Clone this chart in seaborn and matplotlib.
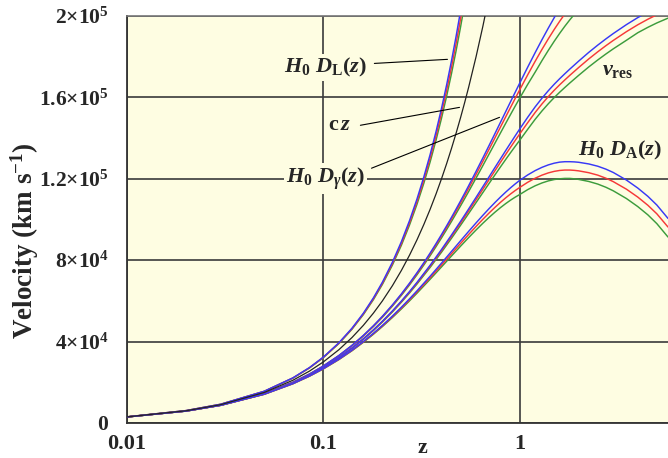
import numpy as np
import pandas as pd
import matplotlib
matplotlib.use("Agg")
import matplotlib.pyplot as plt
import matplotlib.ticker as mticker
import seaborn as sns

# ---------------- data ----------------
z_dl = [0.01, 0.02, 0.03, 0.05, 0.07, 0.085, 0.1, 0.12, 0.14, 0.16, 0.18, 0.2, 0.225, 0.25, 0.275, 0.3,
        0.325, 0.35, 0.375, 0.4, 0.425, 0.45, 0.475, 0.5, 0.525, 0.55]
dl_blue = [3024, 6097, 9218, 15602, 22173, 27221, 32372, 39395, 46592, 53961, 61499, 69201, 79055, 89156,
           99496, 110070, 120872, 131897, 143138, 154591, 166250, 178109, 190166, 202412, 214846, 227460]
dl_red = [3023, 6092, 9207, 15571, 22111, 27129, 32243, 39207, 46333, 53618, 61059, 68652, 78350, 88273,
          98413, 108765, 119321, 130076, 141023, 152157, 163471, 174960, 186620, 198443, 210427, 222564]
dl_green = [3022, 6087, 9196, 15540, 22049, 27037, 32114, 39019, 46074, 53275, 60619, 68103, 77645, 87390,
            97330, 107460, 117770, 128255, 138908, 149722, 160692, 171811, 183074, 194474, 206008, 217668]

z_cz = [0.01, 0.02, 0.03, 0.05, 0.07, 0.085, 0.1, 0.12, 0.14, 0.16, 0.18, 0.2, 0.225, 0.25, 0.275, 0.3,
        0.325, 0.35, 0.375, 0.4, 0.425, 0.45, 0.475, 0.5, 0.525, 0.55, 0.6, 0.65, 0.7]
cz = [3000, 6000, 9000, 15000, 21000, 25500, 30000, 36000, 42000, 48000, 54000, 60000, 67500, 75000, 82500,
      90000, 97500, 105000, 112500, 120000, 127500, 135000, 142500, 150000, 157500, 165000, 180000, 195000,
      210000]

z_dg = [0.01, 0.02, 0.03, 0.05, 0.07, 0.085, 0.1, 0.12, 0.14, 0.16, 0.18, 0.2, 0.225, 0.25, 0.275, 0.3,
        0.325, 0.35, 0.375, 0.4, 0.425, 0.45, 0.475, 0.5, 0.525, 0.55, 0.6, 0.65, 0.7, 0.75, 0.8, 0.85, 0.9,
        0.95, 1.0, 1.1, 1.2, 1.3, 1.4, 1.5, 1.6, 1.7, 1.8, 1.9, 2.0]
dg_blue = [2979, 5916, 8813, 14486, 20005, 24045, 28004, 33157, 38173, 43054, 47806, 52434, 58048, 63478,
           68734, 73819, 78743, 83507, 88122, 92589, 96916, 101104, 105167, 109099, 112910, 116603, 123652,
           130277, 136506, 142365, 147879, 153072, 157964, 162575, 166922, 174899, 182012, 188370, 194055,
           199152, 203728, 207900, 211700, 215100, 218300]
dg_red = [2978, 5914, 8808, 14472, 19977, 24004, 27948, 33078, 38066, 42917, 47635, 52225, 57788, 63162,
          68358, 73379, 78234, 82927, 87466, 91854, 96099, 100202, 104177, 108019, 111737, 115334, 122186,
          128605, 134621, 140261, 145550, 150513, 155171, 159544, 163649, 171134, 177746, 183596, 188769,
          193351, 197411, 201008, 204194, 207017, 209516]
dg_green = [2977, 5911, 8801, 14454, 19942, 23953, 27878, 32979, 37933, 42745, 47421, 51964, 57463, 62767,
            67888, 72829, 77598, 82201, 86646, 90935, 95078, 99075, 102940, 106669, 110271, 113748, 120353,
            126515, 132265, 137631, 142639, 147315, 151680, 155755, 159558, 166428, 172414, 178088, 183106,
            187550, 191489, 194978, 198068, 200806, 203231]

z_long = [0.01, 0.02, 0.03, 0.05, 0.07, 0.085, 0.1, 0.12, 0.14, 0.16, 0.18, 0.2, 0.225, 0.25, 0.275, 0.3,
          0.35, 0.4, 0.45, 0.5, 0.55, 0.6, 0.65, 0.7, 0.75, 0.8, 0.85, 0.9, 0.95, 1.0, 1.1, 1.2, 1.3, 1.4,
          1.5, 1.6, 1.7, 1.8, 1.9, 2.0, 2.25, 2.5, 2.75, 3.0, 3.5, 4.0, 4.5, 5.0, 5.7]
vres_blue = [2971, 5885, 8741, 14295, 19642, 23524, 27298, 32171, 36873, 41406, 45784, 50008, 55088, 59955,
             64619, 69092, 77501, 85256, 92417, 99042, 105179, 110871, 116160, 121079, 125660, 129932, 133920,
             137646, 141132, 144414, 150257, 155347, 159622, 163287, 166443, 169192, 171635, 173874, 175910,
             177845, 182120, 185683, 188737, 191384, 195761, 199223, 201971, 204211, 206654]
vres_red = [2971, 5883, 8737, 14283, 19619, 23490, 27252, 32106, 36785, 41294, 45644, 49839, 54878, 59701,
            64318, 68741, 77043, 84680, 91715, 98207, 104205, 109752, 114890, 119655, 124078, 128188, 132012,
            135572, 138889, 142000, 147600, 152600, 156800, 160400, 163500, 166200, 168600, 170800, 172800,
            174700, 178900, 182400, 185400, 188000, 192300, 195700, 198400, 200600, 203000]
vres_green = [2970, 5880, 8731, 14267, 19589, 23446, 27192, 32021, 36672, 41149, 45463, 49620, 54606, 59373,
              63929, 68287, 76450, 83935, 90807, 97127, 102944, 108303, 113247, 117812, 122031, 125932, 129543,
              132888, 135986, 138876, 144353, 149243, 153350, 156871, 159903, 162544, 164891, 167042, 168998,
              170857, 174964, 178387, 181321, 183864, 188069, 191786, 194432, 196588, 198940]

da_blue = [2965, 5860, 8686, 14144, 19353, 23104, 26727, 31368, 35802, 40038, 44089, 47961, 52563, 56919,
           61038, 64937, 72121, 78563, 84338, 89520, 94168, 98335, 102071, 105417, 108413, 111091, 113482,
           115612, 117507, 119190, 121908, 124029, 125637, 126833, 127669, 128195, 128402, 128402, 128309,
           128113, 127305, 126185, 124751, 123107, 119381, 115440, 111387, 107118, 100537]
da_red = [2964, 5856, 8678, 14123, 19312, 23045, 26647, 31255, 35652, 39847, 43852, 47675, 52211, 56495,
          60539, 64358, 71372, 77631, 83215, 88197, 92639, 96596, 100119, 103249, 106027, 108487, 110660,
          112573, 114251, 115718, 118300, 120300, 121800, 122900, 123650, 124100, 124300, 124300, 124150,
          123900, 123000, 121800, 120300, 118600, 114900, 111000, 107000, 102800, 96300]
da_green = [2963, 5852, 8670, 14102, 19271, 22986, 26567, 31142, 35502, 39656, 43615, 47389, 51859, 56071,
            60040, 63779, 70623, 76699, 82092, 86874, 91110, 94857, 98167, 101081, 103641, 105883, 107838,
            109534, 110995, 112246, 114692, 116571, 117963, 118967, 119631, 120005, 120198, 120198, 119991,
            119687, 118695, 117415, 115849, 114093, 110304, 106338, 102292, 97968, 91389]

y_ticks = [0, 40000, 80000, 120000, 160000, 200000]
y_ticklabels = ["$0$", r"$4{\times}10^{4}$", r"$8{\times}10^{4}$", r"$1.2{\times}10^{5}$",
                r"$1.6{\times}10^{5}$", r"$2{\times}10^{5}$"]
x_ticks = [0.01, 0.1, 1]
x_ticklabels = ["0.01", "0.1", "1"]

# ---------------- style ----------------
sns.set_style("white")
plt.rcParams["font.family"] = ["Liberation Serif", "DejaVu Serif"]
plt.rcParams["mathtext.fontset"] = "custom"
plt.rcParams["mathtext.rm"] = "Liberation Serif:bold"
plt.rcParams["mathtext.bf"] = "Liberation Serif:bold"
plt.rcParams["mathtext.it"] = "Liberation Serif:bold:italic"

BG = "#FEFDE2"
BLUE = "#3838F6"
RED = "#F63838"
GREEN = "#3C9C3C"
GRID = "#3A3A3A"

fig = plt.figure(figsize=(6.68, 4.58), dpi=100)
ax = fig.add_axes([127 / 668, 1 - 423 / 458, 1 - 127 / 668, (423 - 16) / 458])
ax.set_facecolor(BG)
ax.set_xscale("log")
ax.set_xlim(0.01, 5.7)
ax.set_ylim(0, 200000)

ax.grid(True, which="major", axis="both", color=GRID, lw=1.2, zorder=0)
ax.set_axisbelow(True)

lw = 1.05
series = [
    (z_dl, dl_green, GREEN), (z_dl, dl_red, RED), (z_dl, dl_blue, BLUE),
    (z_dg, dg_green, GREEN), (z_dg, dg_red, RED), (z_dg, dg_blue, BLUE),
    (z_long, vres_green, GREEN), (z_long, vres_red, RED), (z_long, vres_blue, BLUE),
    (z_long, da_green, GREEN), (z_long, da_red, RED), (z_long, da_blue, BLUE),
]
for zz, vv, col in series:
    sns.lineplot(x=zz, y=vv, ax=ax, color=col, lw=lw, estimator=None, sort=False, legend=False, zorder=3)
sns.lineplot(x=z_cz, y=cz, ax=ax, color="#222222", lw=0.9, estimator=None, sort=False, legend=False, zorder=3)

# ticks
ax.set_xticks(x_ticks)
ax.set_xticklabels(x_ticklabels)
ax.xaxis.set_minor_locator(mticker.LogLocator(base=10, subs=np.arange(2, 10), numticks=20))
ax.xaxis.set_minor_formatter(mticker.NullFormatter())
ax.set_yticks(y_ticks)
ax.set_yticklabels(y_ticklabels)
for lab in ax.get_xticklabels():
    lab.set_fontweight("bold")
ax.tick_params(axis="x", which="major", length=0, pad=8, labelsize=16)
ax.tick_params(axis="x", which="minor", direction="in", length=4, width=1.0, color="#333333")
ax.tick_params(axis="y", which="major", direction="out", length=4, width=1.2, color=GRID, pad=9, labelsize=15.5)

for s in ["left", "bottom"]:
    ax.spines[s].set_color("#333333")
    ax.spines[s].set_linewidth(1.3)
ax.spines["top"].set_color("#777777")
ax.spines["top"].set_linewidth(1.2)
ax.spines["right"].set_visible(False)

ax.set_xlabel("z", fontsize=16, fontweight="bold")
ax.xaxis.set_label_coords((422 - 127) / 541, -0.036)
ax.set_ylabel(r"Velocity (km s$^{-1}$)", fontsize=19.5, fontweight="bold")
ax.yaxis.set_label_coords(-0.159, 0.447)

# annotations
box = dict(facecolor=BG, edgecolor="none", pad=1.5)
lbl = dict(fontsize=16, ha="center", va="center", zorder=4)
ax.text(0.1025, 174700, r"$H_{0}\ D_{\mathrm{L}}(z)$", bbox=box, **lbl)
ax.text(0.1205, 146300, r"$\mathrm{c}\,z$", bbox=box, **lbl)
ax.text(0.1025, 120200, r"$H_{0}\ D_{\gamma}(z)$", bbox=box, **lbl)
ax.text(3.16, 173300, r"$v_{\mathrm{res}}$", **lbl)
ax.text(3.24, 134000, r"$H_{0}\ D_{\mathrm{A}}(z)$", **lbl)

ax.plot([0.182, 0.429], [176700, 178700], color="black", lw=0.8, zorder=3)
ax.plot([0.1545, 0.494], [146300, 155100], color="black", lw=0.8, zorder=3)
ax.plot([0.176, 0.79], [125200, 150200], color="black", lw=0.8, zorder=3)

fig.savefig("out.png", dpi=100, facecolor="white")
